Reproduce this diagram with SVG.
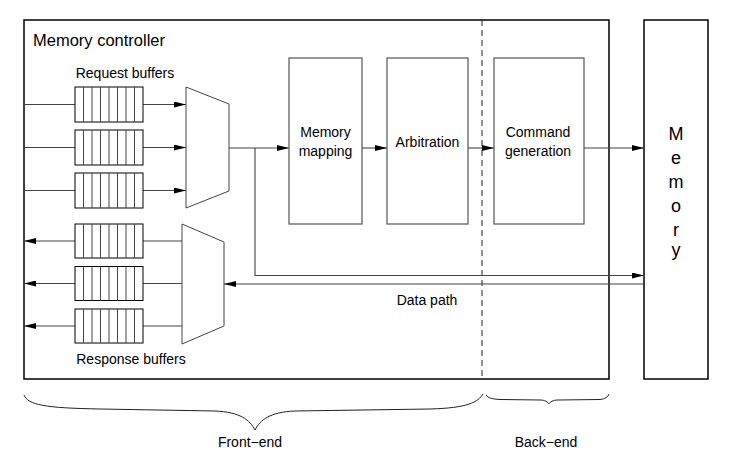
<svg xmlns="http://www.w3.org/2000/svg" width="729" height="468" viewBox="0 0 729 468">
<style>
text{font-family:"Liberation Sans",Arial,sans-serif;fill:#000}
.outer{fill:none;stroke:#000;stroke-width:1.5}
.blk{fill:#fff;stroke:#555;stroke-width:1.2}
.buf{fill:#fff;stroke:#000;stroke-width:1}
.cell{stroke:#444;stroke-width:1}
.mux{fill:#fff;stroke:#444;stroke-width:1}
.con{fill:none;stroke:#444;stroke-width:1.1}
.lbl{font-size:14px}
</style>
<defs>
<marker id="arr" markerWidth="12" markerHeight="6" refX="12" refY="3" orient="auto" markerUnits="userSpaceOnUse"><path d="M0,0 L12,3 L0,6 z" fill="#000"/></marker>
</defs>
<rect width="729" height="468" fill="#fff"/>

<g id="memory-controller">
<rect class="outer" x="24" y="20" width="585" height="359"/>
<text x="33" y="46" style="font-size:16.5px">Memory controller</text>
<line x1="482" y1="20" x2="482" y2="379" stroke="#222" stroke-width="1" stroke-dasharray="6,4"/>
</g>

<g id="memory">
<rect class="outer" x="644" y="20" width="64" height="359"/>
<g style="font-size:18px">
<text x="676" y="140" text-anchor="middle">M</text>
<text x="676" y="164" text-anchor="middle">e</text>
<text x="676" y="188" text-anchor="middle">m</text>
<text x="676" y="212" text-anchor="middle">o</text>
<text x="676" y="236" text-anchor="middle">r</text>
<text x="676" y="256" text-anchor="middle">y</text>
</g>
</g>

<g id="connectors">
<line class="con" x1="24" y1="104.5" x2="75" y2="104.5"/>
<line class="con" x1="24" y1="147.5" x2="75" y2="147.5"/>
<line class="con" x1="24" y1="190.5" x2="75" y2="190.5"/>
<line class="con" x1="143" y1="104.5" x2="186" y2="104.5" marker-end="url(#arr)"/>
<line class="con" x1="143" y1="147.5" x2="186" y2="147.5" marker-end="url(#arr)"/>
<line class="con" x1="143" y1="190.5" x2="186" y2="190.5" marker-end="url(#arr)"/>
<line class="con" x1="229" y1="148" x2="289" y2="148" marker-end="url(#arr)"/>
<line class="con" x1="362" y1="148" x2="387" y2="148" marker-end="url(#arr)"/>
<line class="con" x1="468" y1="148" x2="494" y2="148" marker-end="url(#arr)"/>
<line class="con" x1="584" y1="148" x2="644" y2="148" marker-end="url(#arr)"/>
<path class="con" d="M255,148 V275.5 H644" marker-end="url(#arr)"/>
<line class="con" x1="644" y1="284" x2="224" y2="284" marker-end="url(#arr)"/>
<line class="con" x1="182" y1="241" x2="143" y2="241"/>
<line class="con" x1="182" y1="283.5" x2="143" y2="283.5"/>
<line class="con" x1="182" y1="326" x2="143" y2="326"/>
<line class="con" x1="75" y1="241" x2="24" y2="241" marker-end="url(#arr)"/>
<line class="con" x1="75" y1="283.5" x2="24" y2="283.5" marker-end="url(#arr)"/>
<line class="con" x1="75" y1="326" x2="24" y2="326" marker-end="url(#arr)"/>
</g>

<g id="request-buffers">
<text class="lbl" x="125" y="78" text-anchor="middle">Request buffers</text>
<g transform="translate(75,87)">
<rect class="buf" width="68" height="35"/>
<path class="cell" d="M8.5,0V35M17,0V35M25.5,0V35M34,0V35M42.5,0V35M51,0V35M59.5,0V35"/>
</g>
<g transform="translate(75,130)">
<rect class="buf" width="68" height="35"/>
<path class="cell" d="M8.5,0V35M17,0V35M25.5,0V35M34,0V35M42.5,0V35M51,0V35M59.5,0V35"/>
</g>
<g transform="translate(75,173)">
<rect class="buf" width="68" height="35"/>
<path class="cell" d="M8.5,0V35M17,0V35M25.5,0V35M34,0V35M42.5,0V35M51,0V35M59.5,0V35"/>
</g>
</g>

<g id="request-mux">
<polygon class="mux" points="186,87 229,104 229,191 186,208"/>
</g>

<g id="response-buffers">
<g transform="translate(75,224)">
<rect class="buf" width="68" height="34"/>
<path class="cell" d="M8.5,0V34M17,0V34M25.5,0V34M34,0V34M42.5,0V34M51,0V34M59.5,0V34"/>
</g>
<g transform="translate(75,266.5)">
<rect class="buf" width="68" height="34"/>
<path class="cell" d="M8.5,0V34M17,0V34M25.5,0V34M34,0V34M42.5,0V34M51,0V34M59.5,0V34"/>
</g>
<g transform="translate(75,309)">
<rect class="buf" width="68" height="34"/>
<path class="cell" d="M8.5,0V34M17,0V34M25.5,0V34M34,0V34M42.5,0V34M51,0V34M59.5,0V34"/>
</g>
<text class="lbl" x="131" y="364" text-anchor="middle">Response buffers</text>
</g>

<g id="response-mux">
<polygon class="mux" points="182,224 224,242 224,326 182,344"/>
</g>

<g id="memory-mapping">
<rect class="blk" x="289" y="58" width="73" height="166"/>
<text class="lbl" x="325.5" y="137" text-anchor="middle">Memory</text>
<text class="lbl" x="325.5" y="156" text-anchor="middle">mapping</text>
</g>

<g id="arbitration">
<rect class="blk" x="387" y="58" width="81" height="166"/>
<text class="lbl" x="427.5" y="147" text-anchor="middle">Arbitration</text>
</g>

<g id="command-generation">
<rect class="blk" x="494" y="58" width="90" height="166"/>
<text class="lbl" x="538" y="137" text-anchor="middle">Command</text>
<text class="lbl" x="538" y="156" text-anchor="middle">generation</text>
</g>

<text class="lbl" x="427" y="305" text-anchor="middle">Data path</text>

<g id="front-end">
<path fill="none" stroke="#222" stroke-width="1" d="M24,395 C28,405 45,408 100,409 L215,411 C240,412 250,420 255,430 C260,420 270,412 295,411 L430,409 C468,408 478,402 483,394"/>
<text class="lbl" x="250" y="447" text-anchor="middle">Front−end</text>
</g>

<g id="back-end">
<path fill="none" stroke="#222" stroke-width="1" d="M486,395 C488,398 492,399 500,399.5 L540,400 C545,400 548,402 549,404 C550,402 553,400 558,400 L600,399.5 C605,399 608,397 609,394"/>
<text class="lbl" x="546" y="447" text-anchor="middle">Back−end</text>
</g>
</svg>
